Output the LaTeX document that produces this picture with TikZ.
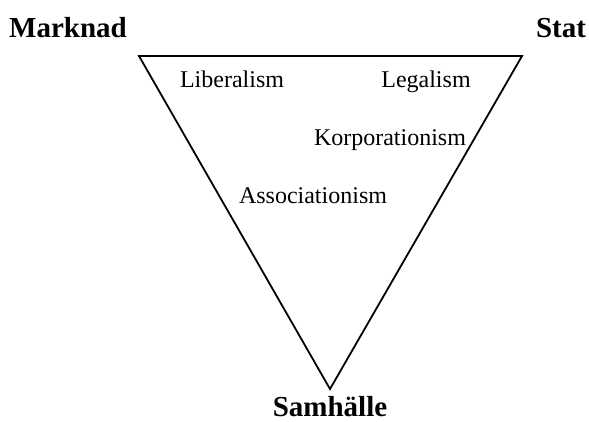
\documentclass[tikz,border=0pt]{standalone}
\usepackage{fontspec}
\setmainfont{Liberation Serif}
\begin{document}
\begin{tikzpicture}[x=1pt,y=-1pt,
  corner/.style={font=\fontsize{29}{34}\selectfont\bfseries, anchor=base, inner sep=0pt},
  school/.style={font=\fontsize{24}{28}\selectfont, anchor=base, inner sep=0pt}]
\useasboundingbox (0,0) rectangle (589,421);
\coordinate (tl) at (139,56);
\coordinate (tr) at (522,56);
\coordinate (bt) at (330,389);
\draw[line width=1.8pt, line join=miter] (tl) -- (tr) -- (bt) -- cycle;
\node[corner] (marknad) at (68,37) {Marknad};
\node[corner] (stat) at (561,37) {Stat};
\node[corner] (samhalle) at (330,416) {Samhälle};
\node[school] (lib) at (232,87) {Liberalism};
\node[school] (leg) at (426,87) {Legalism};
\node[school] (kor) at (390,145) {Korporationism};
\node[school] (ass) at (313,203) {Associationism};
\end{tikzpicture}
\end{document}
